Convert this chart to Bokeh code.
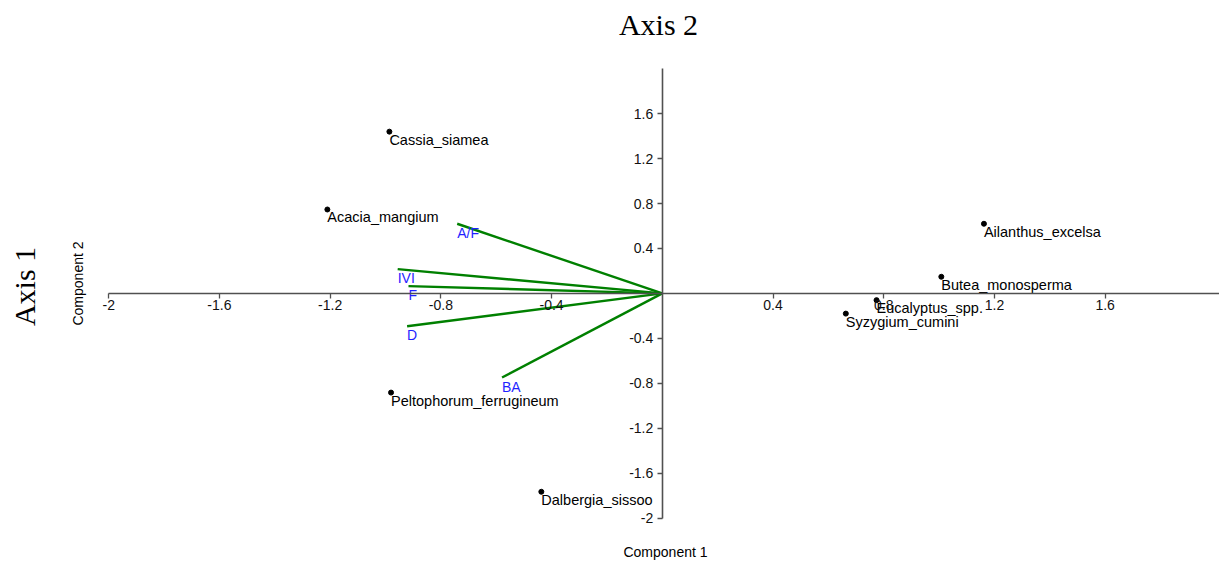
from bokeh.plotting import figure
from bokeh.models import Range1d, FixedTicker, Label, ColumnDataSource
from bokeh.embed import file_html
from bokeh.resources import INLINE
import math

# ---- data ----
species = ["Cassia_siamea", "Acacia_mangium", "Ailanthus_excelsa", "Butea_monosperma",
           "Eucalyptus_spp.", "Syzygium_cumini", "Peltophorum_ferrugineum", "Dalbergia_sissoo"]
comp1 = [-0.986, -1.21, 1.162, 1.008, 0.774, 0.663, -0.98, -0.437]
comp2 = [1.44, 0.747, 0.62, 0.148, -0.06, -0.18, -0.883, -1.766]

variables = ["A/F", "IVI", "F", "D", "BA"]
load1 = [-0.741, -0.956, -0.917, -0.922, -0.579]
load2 = [0.62, 0.216, 0.065, -0.293, -0.749]

x_ticks = [-2, -1.6, -1.2, -0.8, -0.4, 0.4, 0.8, 1.2, 1.6]
x_tick_labels = ["-2", "-1.6", "-1.2", "-0.8", "-0.4", "0.4", "0.8", "1.2", "1.6"]
y_ticks = [-2, -1.6, -1.2, -0.8, -0.4, 0.4, 0.8, 1.2, 1.6]
y_tick_labels = ["-2", "-1.6", "-1.2", "-0.8", "-0.4", "0.4", "0.8", "1.2", "1.6"]

W, H = 1219, 561
# pixel geometry of the reference
X0_PX, X_PER = 661.8, 276.8
Y0_PX, Y_PER = 292.9, 112.33

x_start = -X0_PX / X_PER
x_end = (W - X0_PX) / X_PER
y_end = Y0_PX / Y_PER
y_start = -(H - Y0_PX) / Y_PER

p = figure(width=W, height=H, output_backend="svg", toolbar_location=None,
           x_range=Range1d(x_start, x_end), y_range=Range1d(y_start, y_end),
           min_border=0, min_border_left=0, min_border_right=0,
           min_border_top=0, min_border_bottom=0)
p.outline_line_color = None
p.grid.visible = False
p.background_fill_color = "white"
p.border_fill_color = "white"

AX_COL = "#505050"
FONT = "Liberation Sans"

xa = p.xaxis[0]
xa.fixed_location = 0
xa.bounds = (-2, x_end)
xa.ticker = FixedTicker(ticks=x_ticks)
xa.major_label_overrides = {t: l for t, l in zip(x_ticks, x_tick_labels)}
xa.axis_line_color = AX_COL
xa.axis_line_width = 1.6
xa.major_tick_line_color = AX_COL
xa.major_tick_line_width = 1.3
xa.major_tick_in = 0
xa.major_tick_out = 5
xa.minor_tick_line_color = None
xa.major_label_text_font = FONT
xa.major_label_text_font_size = "14px"
xa.major_label_text_color = "#111111"
xa.major_label_standoff = 2

ya = p.yaxis[0]
ya.fixed_location = 0
ya.bounds = (-2, 2.0)
ya.ticker = FixedTicker(ticks=y_ticks)
ya.major_label_overrides = {t: l for t, l in zip(y_ticks, y_tick_labels)}
ya.axis_line_color = AX_COL
ya.axis_line_width = 1.6
ya.major_tick_line_color = AX_COL
ya.major_tick_line_width = 1.3
ya.major_tick_in = 0
ya.major_tick_out = 5
ya.minor_tick_line_color = None
ya.major_label_text_font = FONT
ya.major_label_text_font_size = "14px"
ya.major_label_text_color = "#111111"
ya.major_label_standoff = 4
ya.major_label_orientation = "horizontal"

# loadings vectors
vsrc = ColumnDataSource(dict(x0=[0] * len(load1), y0=[0] * len(load1),
                             x1=load1, y1=load2, name=variables))
p.segment(x0="x0", y0="y0", x1="x1", y1="y1", source=vsrc,
          line_color="#008000", line_width=2.4)
p.text(x="x1", y="y1", text="name", source=vsrc, text_color="#1f1fff",
       text_font={"value": FONT}, text_font_size="14px",
       text_baseline="top", text_align="left", y_offset=1)

# species points
ssrc = ColumnDataSource(dict(x=comp1, y=comp2, name=species))
p.scatter(x="x", y="y", source=ssrc, size=5, fill_color="black", line_color="black")
p.text(x="x", y="y", text="name", source=ssrc, text_color="black",
       text_font={"value": FONT}, text_font_size="14.5px",
       text_baseline="top", text_align="left", y_offset=0)

def px2x(px):
    return (px - X0_PX) / X_PER

def py2y(py):
    return (Y0_PX - py) / Y_PER

p.add_layout(Label(x=px2x(658), y=py2y(24), text="Axis 2", text_align="center",
                   text_baseline="middle", text_font="Liberation Serif",
                   text_font_size="30px", text_color="black"))
p.add_layout(Label(x=px2x(24), y=py2y(286), text="Axis 1", text_align="center",
                   text_baseline="middle", text_font="Liberation Serif",
                   text_font_size="30px", text_color="black", angle=math.pi / 2))
p.add_layout(Label(x=px2x(77), y=py2y(283), text="Component 2", text_align="center",
                   text_baseline="middle", text_font=FONT,
                   text_font_size="14px", text_color="black", angle=math.pi / 2))
p.add_layout(Label(x=px2x(665), y=py2y(551), text="Component 1", text_align="center",
                   text_baseline="middle", text_font=FONT,
                   text_font_size="14px", text_color="black"))

open("out.html", "w").write(file_html(p, INLINE))
